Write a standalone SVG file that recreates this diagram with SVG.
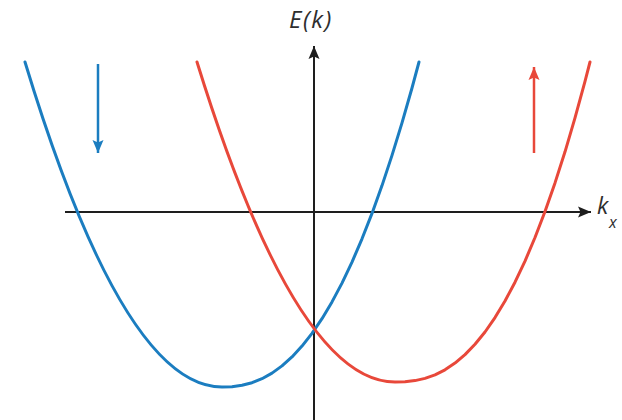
<svg xmlns="http://www.w3.org/2000/svg" width="622" height="420" viewBox="0 0 622 420">
  <style>
    .axis { stroke: #1e1e1e; stroke-width: 2; fill: none; }
    .blue { stroke: #1b7dc0; stroke-width: 3; fill: none; stroke-linecap: round; stroke-linejoin: round; }
    .red { stroke: #e8483a; stroke-width: 3; fill: none; stroke-linecap: round; stroke-linejoin: round; }
    .barrow { stroke: #1b7dc0; stroke-width: 2.5; fill: none; }
    .rarrow { stroke: #e8483a; stroke-width: 2.5; fill: none; }
    .lbl { font-family: "Open Sans", "Liberation Sans", sans-serif; font-style: italic; fill: #2e2e2e; }
  </style>
  <defs>
    <marker id="ah-black" markerUnits="userSpaceOnUse" markerWidth="15" markerHeight="12" refX="13" refY="6" orient="auto">
      <path d="M0,0.5 L13,6 L0,11.5 L2.5,6 Z" fill="#1e1e1e"/>
    </marker>
    <marker id="ah-blue" markerUnits="userSpaceOnUse" markerWidth="15" markerHeight="12" refX="13" refY="6" orient="auto">
      <path d="M0,0.5 L13,6 L0,11.5 L2.5,6 Z" fill="#1b7dc0"/>
    </marker>
    <marker id="ah-red" markerUnits="userSpaceOnUse" markerWidth="15" markerHeight="12" refX="13" refY="6" orient="auto">
      <path d="M0,0.5 L13,6 L0,11.5 L2.5,6 Z" fill="#e8483a"/>
    </marker>
  </defs>
  <rect width="622" height="420" fill="#ffffff"/>

  <g id="axes">
    <line class="axis" x1="65" y1="212" x2="591" y2="212" marker-end="url(#ah-black)"/>
    <line class="axis" x1="314" y1="420" x2="314" y2="46" marker-end="url(#ah-black)"/>
  </g>

  <g id="blue-band">
    <path class="blue" d="M25,62 Q123.5,387 222,387 L232,386.7 L242,385.3 L252,382.7 L262,378.7 L272,373.1 L282,365.9 L292,356.9 L302,346.1 L312,333.3 L322,318.7 L332,301.9 L342,283.1 L352,262.1 L362,238.8 L372,213.4 L382,185.6 L392,155.4 L402,122.9 L412,88 L419,62"/>
  </g>

  <g id="red-band">
    <path class="red" d="M197,62 Q296,382 395,382 L405,381.7 L415,380.6 L425,378.4 L435,374.9 L445,369.8 L455,363.1 L465,354.6 L475,344.3 L485,332 L495,317.6 L505,301 L515,282.2 L525,261.1 L535,237.5 L545,211.5 L555,182.9 L565,151.8 L575,117.9 L585,81.3 L590,62"/>
  </g>

  <g id="spin-arrows">
    <line class="barrow" x1="98" y1="64" x2="98" y2="153" marker-end="url(#ah-blue)"/>
    <line class="rarrow" x1="534" y1="153" x2="534" y2="67" marker-end="url(#ah-red)"/>
  </g>

  <g id="labels">
    <text class="lbl" x="311" y="28" font-size="24" text-anchor="middle" letter-spacing="1.5">E(k)</text>
    <text class="lbl" x="597" y="214" font-size="23">k</text>
    <text class="lbl" x="609" y="228" font-size="16">x</text>
  </g>
</svg>
